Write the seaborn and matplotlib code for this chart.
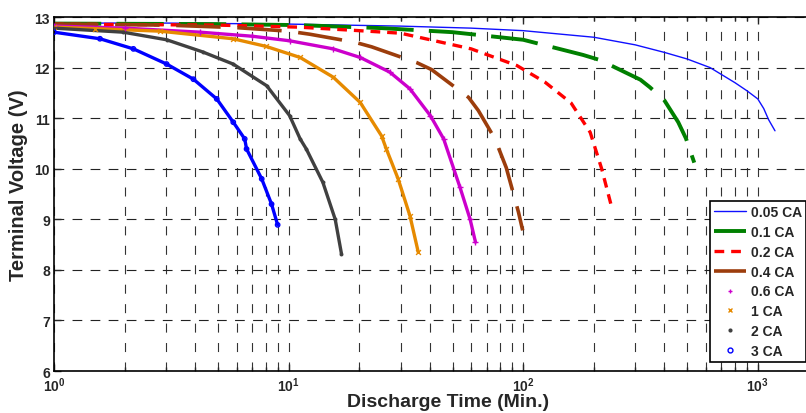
import numpy as np
import pandas as pd
import matplotlib
matplotlib.use('Agg')
import matplotlib.pyplot as plt
import seaborn as sns
from matplotlib.lines import Line2D

# ---- data ----
labels = ['0.05 CA', '0.1 CA', '0.2 CA', '0.4 CA', '0.6 CA', '1 CA', '2 CA', '3 CA']

t_005 = [1, 3, 10, 30, 60, 100, 200, 300, 400, 500, 626, 800, 900, 1000, 1060, 1112, 1184]
v_005 = [12.88, 12.88, 12.86, 12.82, 12.78, 12.73, 12.60, 12.45, 12.30, 12.17, 12.00, 11.70, 11.54, 11.38, 11.19, 10.97, 10.75]

t_01 = [1, 5, 11, 25, 50, 100, 180, 212, 316, 347, 400, 458, 494, 536]
v_01 = [12.87, 12.86, 12.84, 12.78, 12.70, 12.55, 12.25, 12.15, 11.76, 11.61, 11.35, 10.92, 10.60, 10.12]

t_02 = [1, 5, 11, 20, 30, 60, 94, 124, 160, 193, 216, 238]
v_02 = [12.86, 12.84, 12.80, 12.73, 12.68, 12.37, 12.04, 11.71, 11.30, 10.72, 10.00, 9.25]

t_04 = [1, 3, 6, 10, 12.3, 19.2, 22.6, 35.1, 40.7, 58.5, 64.4, 75.8, 84.7, 95.5, 99.5]
v_04 = [12.86, 12.84, 12.79, 12.72, 12.66, 12.50, 12.41, 12.10, 11.96, 11.41, 11.15, 10.59, 10.02, 9.14, 8.78]

t_06 = [1, 2, 4.2, 7, 10.1, 15.5, 20.2, 27, 32.9, 40.2, 45.8, 53.8, 59.4, 62.6]
v_06 = [12.82, 12.78, 12.70, 12.62, 12.53, 12.37, 12.20, 11.91, 11.58, 11.05, 10.59, 9.63, 9.00, 8.55]

t_1 = [1, 1.5, 2.83, 5.8, 8, 11.2, 15.5, 20.2, 24.9, 26.1, 29.3, 32.9, 35.7]
v_1 = [12.80, 12.77, 12.72, 12.57, 12.42, 12.20, 11.81, 11.31, 10.65, 10.39, 9.80, 9.07, 8.35]

t_2 = [1, 1.97, 3.02, 4.3, 5.8, 8.07, 10.1, 11.2, 11.9, 14.0, 15.8, 16.8]
v_2 = [12.78, 12.70, 12.55, 12.31, 12.07, 11.64, 11.05, 10.59, 10.39, 9.73, 9.00, 8.32]

t_3 = [1, 1.57, 2.18, 3.02, 3.93, 4.94, 5.81, 6.5, 6.62, 7.68, 8.46, 8.98]
v_3 = [12.70, 12.57, 12.37, 12.07, 11.77, 11.38, 10.92, 10.59, 10.39, 9.80, 9.30, 8.89]

x_ticks = [1, 10, 100, 1000]
x_tick_labels = [r'$\mathbf{10^{0}}$', r'$\mathbf{10^{1}}$', r'$\mathbf{10^{2}}$', r'$\mathbf{10^{3}}$']
y_ticks = [6, 7, 8, 9, 10, 11, 12, 13]

# ---- style ----
sns.set_style('ticks')
plt.rcParams['font.family'] = ['Liberation Sans', 'DejaVu Sans']
plt.rcParams['font.weight'] = 'bold'
plt.rcParams['mathtext.fontset'] = 'custom'
plt.rcParams['mathtext.bf'] = 'Liberation Sans:bold'
plt.rcParams['mathtext.rm'] = 'Liberation Sans:bold'
plt.rcParams['lines.scale_dashes'] = False

fig = plt.figure(figsize=(8.06, 4.14), dpi=100)
ax = fig.add_axes([0.067, 0.1014, 0.9608, 0.8551])
ax.set_xscale('log')

line_specs = [
    (t_005, v_005, '#1010ff', 1.0, '-'),
    (t_01, v_01, '#008000', 2.8, (0, (34, 11))),
    (t_02, v_02, '#ff0000', 2.4, (0, (7, 5))),
    (t_04, v_04, '#9c3d0c', 2.6, (0, (32, 12))),
]
marker_specs = [
    (t_06, v_06, '#cc00cc', '+', 14, 'full'),
    (t_1, v_1, '#e68a00', 'x', 12, 'full'),
    (t_2, v_2, '#404040', 'o', 8, 'full'),
    (t_3, v_3, '#0000ff', 'o', 10, 'none'),
]

handles = []
for (t, v, c, lw, ls), lab in zip(line_specs, labels[:4]):
    sns.lineplot(x=t, y=v, ax=ax, color=c, linewidth=lw, linestyle=ls)
    handles.append(Line2D([], [], color=c, linewidth=lw, linestyle=ls))

for (t, v, c, m, s, fill), lab in zip(marker_specs, labels[4:]):
    sns.lineplot(x=t, y=v, ax=ax, color=c, linewidth=2.4)
    if fill == 'none':
        sns.scatterplot(x=t, y=v, ax=ax, marker='o', s=s, facecolors='none',
                        edgecolor=c, linewidth=1.0, zorder=3)
        handles.append(Line2D([], [], color=c, marker='o', linestyle='none',
                              markersize=3.5, markerfacecolor='none', markeredgewidth=1.0))
    elif m in ('+', 'x'):
        sns.scatterplot(x=t, y=v, ax=ax, marker=m, s=s, color=c, linewidth=1.0, zorder=3)
        handles.append(Line2D([], [], color=c, marker=m, linestyle='none',
                              markersize=3.5, markeredgewidth=1.0))
    else:
        sns.scatterplot(x=t, y=v, ax=ax, marker='o', s=s, color=c, linewidth=0, zorder=3)
        handles.append(Line2D([], [], color=c, marker='o', linestyle='none',
                              markersize=3, markeredgewidth=0))

ax.set_xlim(1, 2000)
ax.set_ylim(6, 13)
ax.set_xticks(x_ticks)
ax.set_xticklabels(x_tick_labels)
ax.set_yticks(y_ticks)
ax.set_yticklabels([str(y) for y in y_ticks])

ax.tick_params(axis='both', which='both', direction='in', top=True, right=True,
               labelsize=10, width=1.0)
ax.tick_params(axis='both', which='major', length=5, pad=3)
ax.tick_params(axis='x', which='minor', length=3)
for lab in ax.get_xticklabels() + ax.get_yticklabels():
    lab.set_fontweight('bold')

ax.grid(True, which='major', axis='y', color='#222222', linewidth=0.8, linestyle=(0, (7, 6)))
ax.grid(True, which='both', axis='x', color='#333333', linewidth=0.8, linestyle=(0, (6.5, 7.5)))
ax.set_axisbelow(True)

for sp in ax.spines.values():
    sp.set_linewidth(1.2)
    sp.set_color('black')

ax.set_xlabel('Discharge Time (Min.)', fontsize=14, fontweight='bold')
ax.set_ylabel('Terminal Voltage (V)', fontsize=14.5, fontweight='bold')
ax.xaxis.set_label_coords(0.509, -0.062)
ax.yaxis.set_label_coords(-0.034, 0.528)

leg = ax.legend(handles=handles, labels=labels, loc='upper left',
                bbox_to_anchor=(710 / 806, (414 - 202) / 414), bbox_transform=fig.transFigure,
                prop={'weight': 'bold', 'size': 10}, frameon=True, fancybox=False,
                framealpha=1, edgecolor='black', handlelength=2.3, handletextpad=0.35,
                labelspacing=0.42, borderpad=0.3, borderaxespad=0, handleheight=0.7)
leg.get_frame().set_linewidth(1.2)

fig.savefig('out.png', dpi=100)
